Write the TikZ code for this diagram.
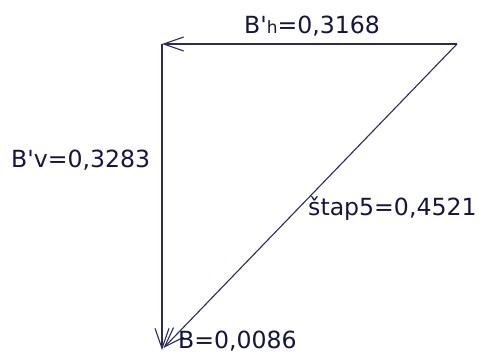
\documentclass[tikz,border=0pt]{standalone}
\usepackage{fontspec}
\setmainfont{DejaVu Sans}
\usetikzlibrary{arrows.meta}
\definecolor{lineC}{HTML}{2A2A5C}
\definecolor{textC}{HTML}{15153F}
\tikzset{
  vec/.style={draw=lineC, line width=1.1pt, -{Straight Barb[length=20pt,width=14pt,line width=1.1pt]}},
  lbl/.style={text=textC, inner sep=0pt, anchor=base west, font=\fontsize{23.6}{27}\selectfont},
}
\begin{document}
\begin{tikzpicture}[x=1pt,y=-1pt]
\useasboundingbox (0,0) rectangle (479,353);
\coordinate (R) at (457,44);
\coordinate (L) at (162,44);
\coordinate (D) at (162,350);
\coordinate (E) at (163.5,348);
\draw[vec] (R) -- (L);
\draw[vec] (L) -- (D);
\draw[vec] (R) -- (E);
\node[lbl] (bh) at (244,34) {B\textquotesingle{\fontsize{17}{19}\selectfont h}=0,3168};
\node[lbl] (bv) at (11,167) {B\textquotesingle v=0,3283};
\node[lbl] (st) at (308,215) {štap5=0,4521};
\node[lbl] (b) at (178,348) {B=0,0086};
\end{tikzpicture}
\end{document}
